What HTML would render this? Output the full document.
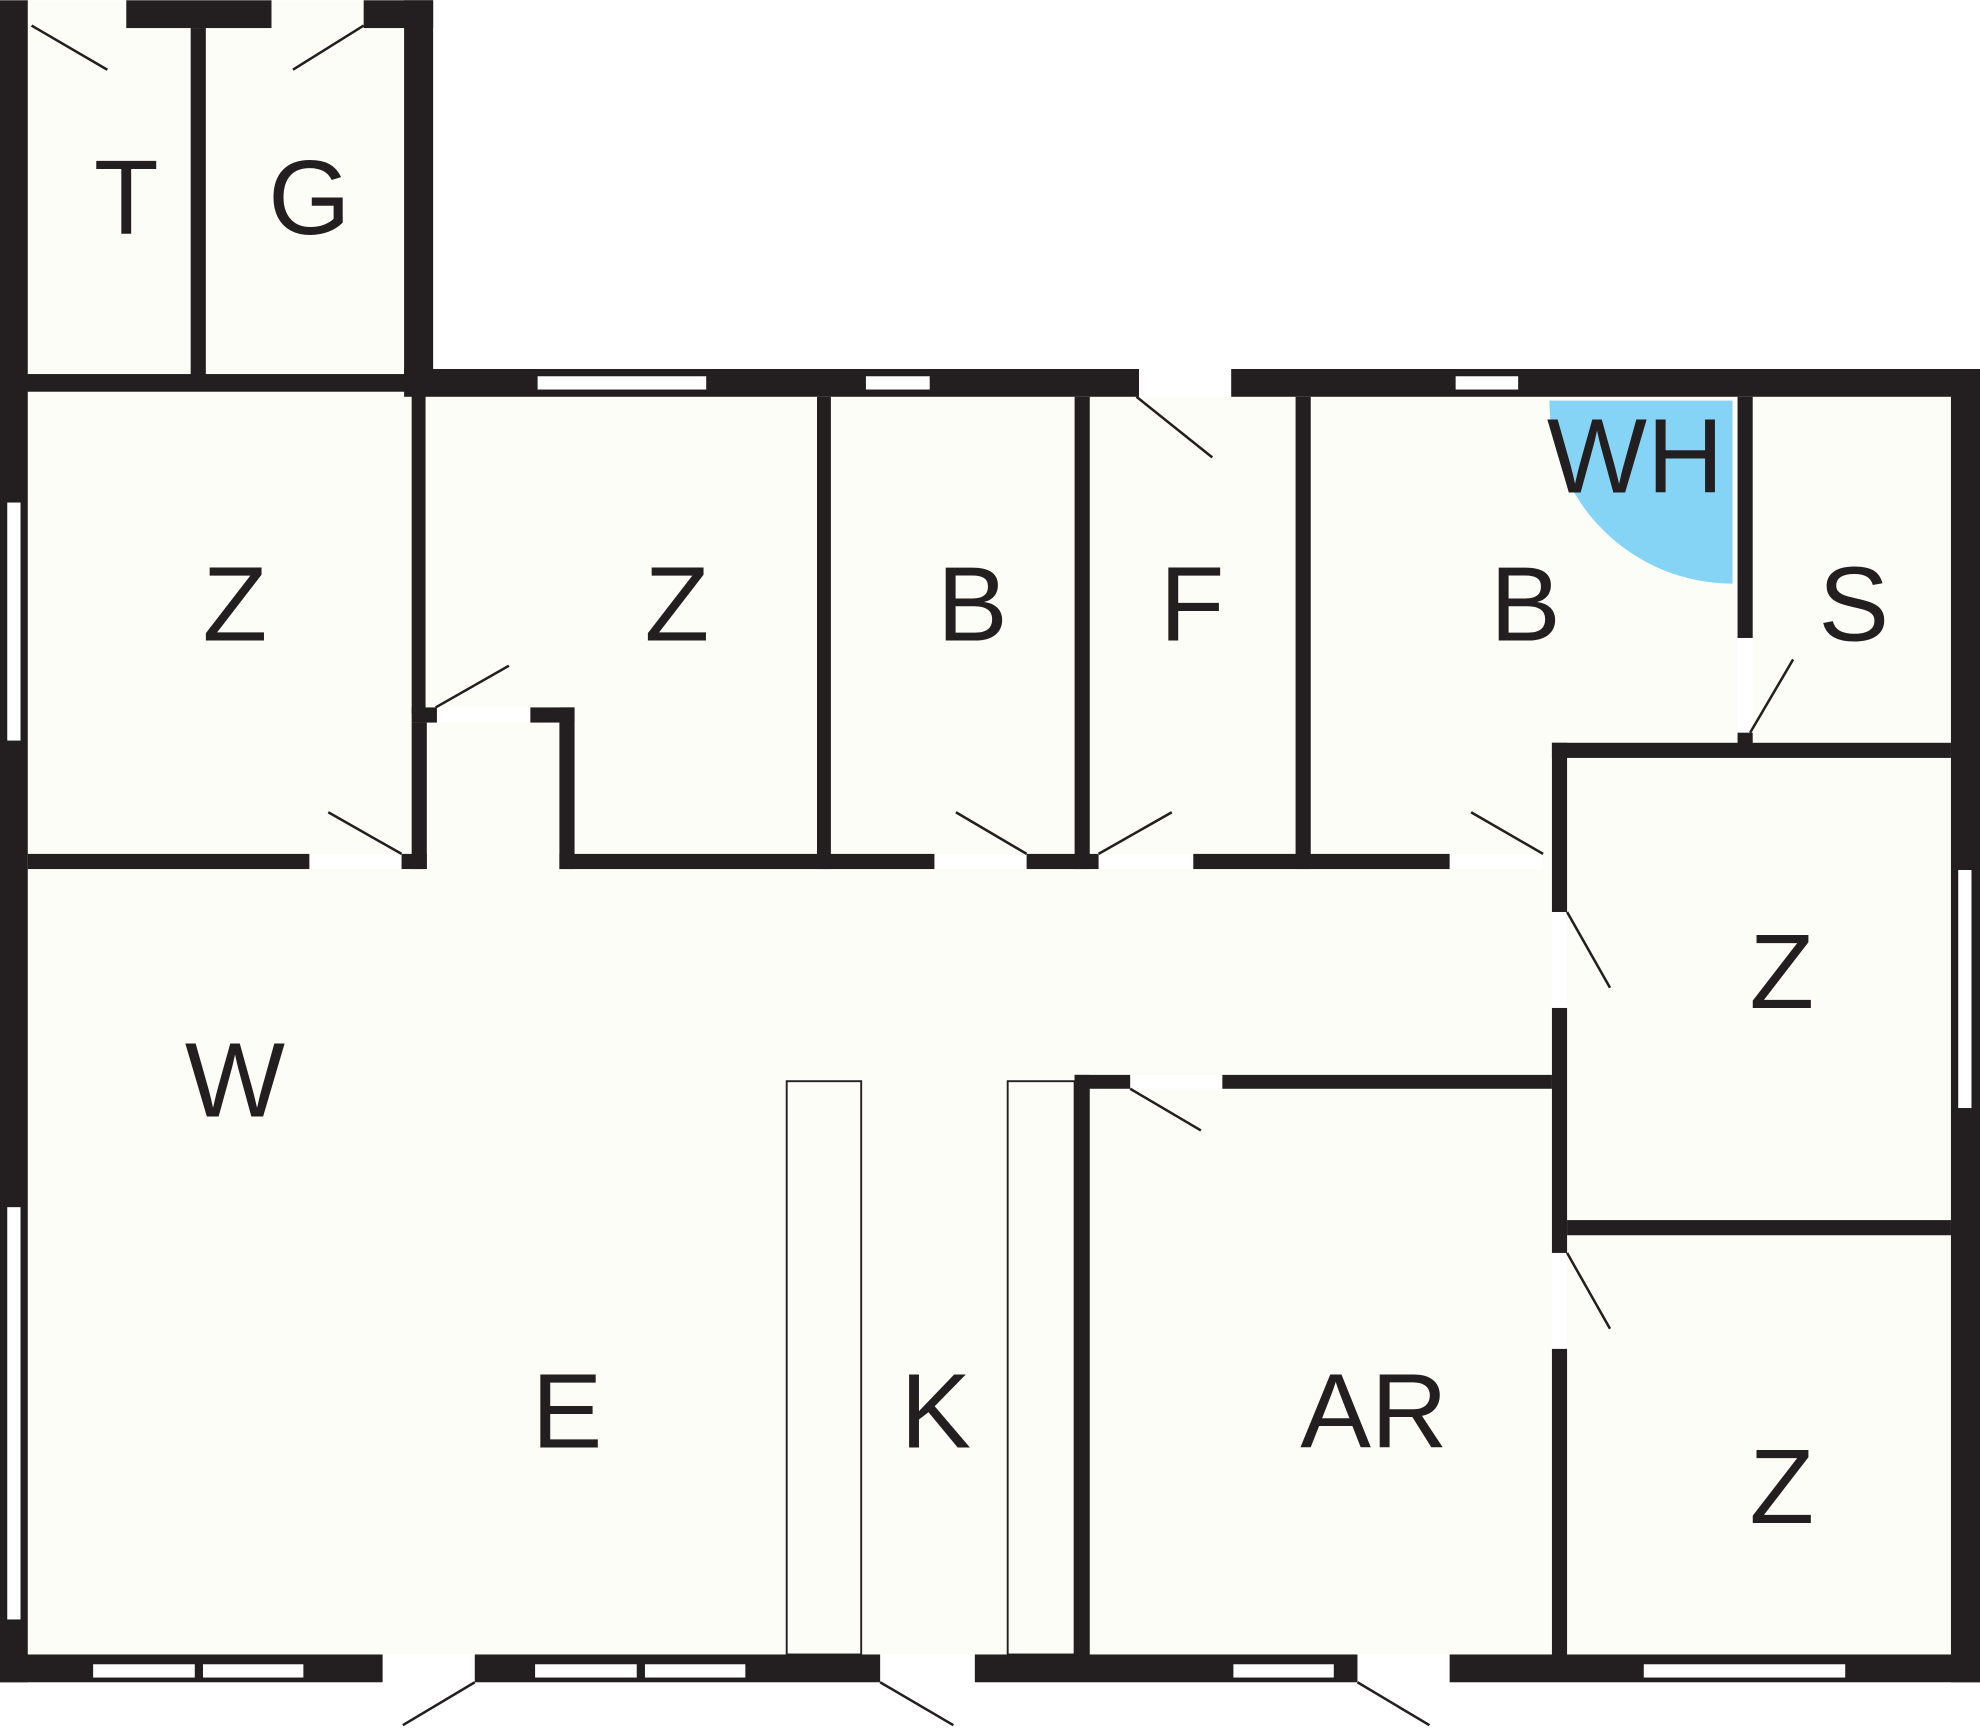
<!DOCTYPE html>
<html><head><meta charset="utf-8"><style>
html,body{margin:0;padding:0;background:#fff;}
svg{display:block;}
text{font-family:"Liberation Sans",sans-serif;font-size:84px;fill:#231f20;text-anchor:middle;}
</style></head><body>
<svg width="1980" height="1728" viewBox="0 0 1568 1368" xmlns="http://www.w3.org/2000/svg">
<rect x="0" y="0" width="343" height="310" fill="#fdfdf8"/>
<rect x="0" y="292" width="1568" height="1040" fill="#fdfdf8"/>
<path d="M1372 317 L1227 317 A145 145 0 0 0 1372 462 Z" fill="#86d4f5"/>
<!-- door thresholds -->
<g fill="#fff">
<rect x="902" y="292" width="73" height="22"/>
<rect x="245" y="676" width="73" height="12"/>
<rect x="740" y="676" width="73" height="12"/>
<rect x="870" y="676" width="75" height="12"/>
<rect x="1148" y="676" width="74" height="12"/>
<rect x="345" y="560" width="75" height="12"/>
<rect x="1229" y="722" width="12" height="76"/>
<rect x="1229" y="992" width="12" height="76"/>
<rect x="1376" y="505" width="12" height="75"/>
<rect x="895" y="851" width="73" height="11"/>
<rect x="303" y="1310" width="73" height="22"/>
<rect x="697" y="1310" width="75" height="22"/>
<rect x="1075" y="1310" width="73" height="22"/>
</g>
<g fill="#231f20">
<rect x="0" y="0" width="22" height="1332"/>
<rect x="100" y="0" width="115" height="22"/>
<rect x="288" y="0" width="55" height="22"/>
<rect x="320" y="0" width="23" height="300"/>
<rect x="151" y="22" width="12" height="276"/>
<rect x="0" y="296" width="325" height="14"/>
<rect x="320" y="292" width="582" height="22"/>
<rect x="975" y="292" width="593" height="22"/>
<rect x="1545" y="292" width="23" height="1040"/>
<rect x="0" y="1310" width="303" height="22"/>
<rect x="376" y="1310" width="321" height="22"/>
<rect x="772" y="1310" width="303" height="22"/>
<rect x="1148" y="1310" width="420" height="22"/>
<rect x="22" y="676" width="223" height="12"/>
<rect x="318" y="676" width="20" height="12"/>
<rect x="326" y="310" width="11" height="255"/>
<rect x="326" y="572" width="12" height="116"/>
<rect x="326" y="560" width="20" height="12"/>
<rect x="420" y="560" width="35" height="12"/>
<rect x="443" y="560" width="12" height="128"/>
<rect x="443" y="676" width="297" height="12"/>
<rect x="813" y="676" width="57" height="12"/>
<rect x="945" y="676" width="203" height="12"/>
<rect x="647" y="314" width="11" height="374"/>
<rect x="851" y="314" width="12" height="374"/>
<rect x="1026" y="314" width="12" height="374"/>
<rect x="1229" y="588" width="12" height="134"/>
<rect x="1229" y="798" width="12" height="194"/>
<rect x="1229" y="1068" width="12" height="252"/>
<rect x="1229" y="588" width="316" height="12"/>
<rect x="1376" y="314" width="12" height="191"/>
<rect x="1376" y="580" width="12" height="10"/>
<rect x="1241" y="966" width="304" height="12"/>
<rect x="851" y="851" width="44" height="11"/>
<rect x="968" y="851" width="261" height="11"/>
<rect x="851" y="851" width="12" height="469"/>
</g>
<g fill="#fff" stroke="#231f20" stroke-width="1.5">
<rect x="425" y="297" width="135" height="12"/>
<rect x="685" y="297" width="52" height="12"/>
<rect x="1152" y="297" width="51" height="12"/>
<rect x="5" y="397" width="12" height="190"/>
<rect x="5" y="955" width="12" height="328"/>
<rect x="1550" y="688" width="12" height="190"/>
<rect x="73" y="1317" width="82" height="12"/>
<rect x="160" y="1317" width="81" height="12"/>
<rect x="423" y="1317" width="82" height="12"/>
<rect x="510" y="1317" width="81" height="12"/>
<rect x="976" y="1317" width="81" height="12"/>
<rect x="1301" y="1317" width="161" height="12"/>
<rect x="623" y="856" width="59" height="454" fill="none"/>
<rect x="798" y="856" width="53" height="454" fill="none"/>
</g>
<g stroke="#231f20" stroke-width="2">
<line x1="25" y1="20" x2="85" y2="55"/>
<line x1="288" y1="20" x2="232" y2="55"/>
<line x1="900" y1="314" x2="960" y2="362"/>
<line x1="345" y1="560" x2="403" y2="527"/>
<line x1="318" y1="676" x2="260" y2="643"/>
<line x1="813" y1="676" x2="757" y2="643"/>
<line x1="870" y1="676" x2="928" y2="643"/>
<line x1="1222" y1="676" x2="1165" y2="643"/>
<line x1="1386" y1="580" x2="1420" y2="522"/>
<line x1="1241" y1="722" x2="1275" y2="782"/>
<line x1="1241" y1="992" x2="1275" y2="1052"/>
<line x1="895" y1="862" x2="951" y2="895"/>
<line x1="376" y1="1332" x2="319" y2="1366"/>
<line x1="697" y1="1332" x2="755" y2="1366"/>
<line x1="1075" y1="1332" x2="1132" y2="1366"/>
</g>
<text x="100" y="185">T</text>
<text x="245" y="185">G</text>
<text x="186" y="507">Z</text>
<text x="536" y="507">Z</text>
<text x="770" y="507">B</text>
<text x="944" y="507">F</text>
<text x="1208" y="507">B</text>
<text x="1295" y="390">WH</text>
<text x="1468" y="507">S</text>
<text x="186" y="884">W</text>
<text x="449" y="1146">E</text>
<text x="741" y="1146">K</text>
<text x="1088" y="1146">AR</text>
<text x="1411" y="798">Z</text>
<text x="1411" y="1206">Z</text>
</svg>
</body></html>
